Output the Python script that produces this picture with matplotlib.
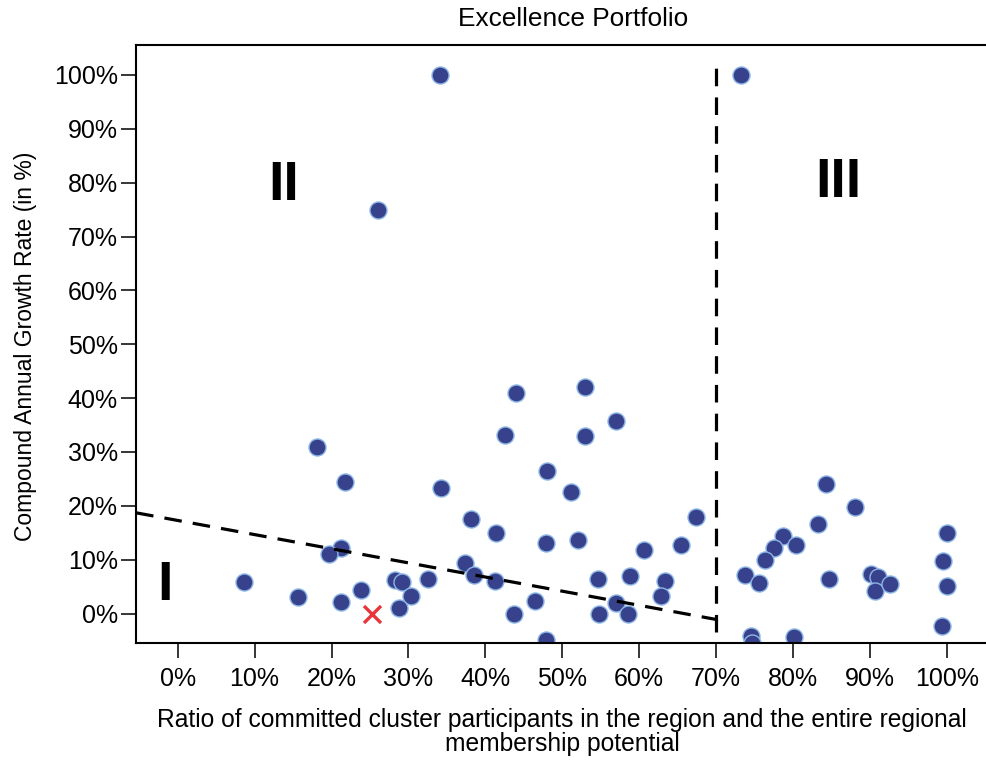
import numpy as np
import matplotlib
matplotlib.use("Agg")
import matplotlib.pyplot as plt

plt.rcParams['font.family'] = ['Liberation Sans', 'DejaVu Sans']

# Data (in %):
ratio = [18.1, 21.8, 21.2, 19.7, 8.6, 15.6, 21.2, 23.9, 28.2, 29.2, 30.4, 28.8, 32.5,
         44.0, 53.0, 42.5, 53.0, 57.0, 48.0, 34.3, 51.1, 38.1, 41.4, 47.9, 52.0,
         67.4, 60.6, 65.5, 37.3, 38.5, 41.2, 43.7, 46.4, 47.9, 54.7, 58.8, 63.4,
         62.8, 57.0, 54.8, 58.5,
         84.3, 88.1, 83.2, 78.7, 77.5, 80.4, 76.3, 73.8, 75.6, 84.7, 90.1, 91.0,
         90.7, 92.6, 100.0, 99.5, 100.0, 99.4, 74.5, 74.7, 80.2,
         34.1, 26.0, 73.2]
growth = [31.0, 24.5, 12.1, 11.0, 5.9, 3.1, 2.1, 4.4, 6.2, 5.8, 3.2, 1.0, 6.4,
          40.9, 42.0, 33.1, 33.0, 35.7, 26.5, 23.3, 22.5, 17.6, 14.9, 13.1, 13.6,
          18.0, 11.8, 12.7, 9.3, 7.2, 6.0, 0.0, 2.3, -4.9, 6.5, 7.0, 6.0,
          3.3, 2.0, 0.0, 0.0,
          24.0, 19.7, 16.7, 14.4, 12.2, 12.8, 9.9, 7.1, 5.6, 6.5, 7.3, 6.8,
          4.2, 5.5, 15.0, 9.8, 5.1, -2.3, -4.1, -5.4, -4.4,
          100.0, 75.0, 100.0]

# Highlighted region (red cross)
ref_x = [25.3]
ref_y = [0.0]

# Dividing lines
diag_x = [-5.4, 70.0]
diag_y = [18.7, -1.1]
vert_x = [70.0, 70.0]
vert_y = [-3.4, 103.3]

# Quadrant labels
quad_labels = ['I', 'II', 'III']
quad_x = [-1.6, 13.8, 85.9]
quad_y = [5.2, 79.4, 80.0]

ticks = np.arange(0, 101, 10)
tick_labels = [f"{t}%" for t in ticks]

fig = plt.figure(figsize=(9.86, 7.6), dpi=100)
ax = fig.add_axes([136/986, 1 - 643.3/760, 1 - 136/986, (643.3 - 45)/760])

ax.scatter(ratio, growth, s=150, color='#38428c', edgecolor='#8db6e6', linewidth=1.0, zorder=2)
ax.scatter(ref_x, ref_y, s=150, marker='x', color='#e8353b', linewidth=2.4, zorder=3)

ax.plot(diag_x, diag_y, color='black', linewidth=2.3, dashes=(5.5, 3.5), zorder=4)
ax.plot(vert_x, vert_y, color='black', linewidth=2.3, dashes=(5.5, 3.5), zorder=4)

for lab, qx, qy in zip(quad_labels, quad_x, quad_y):
    ax.text(qx, qy, lab, fontsize=40, fontweight='bold', ha='center', va='center')

ax.set_xlim(-5.42, 105.1)
ax.set_ylim(-5.53, 105.57)
ax.set_xticks(ticks)
ax.set_xticklabels(tick_labels)
ax.set_yticks(ticks)
ax.set_yticklabels(tick_labels)
ax.tick_params(direction='out', length=11, width=1.1, labelsize=18)
ax.tick_params(axis='x', pad=6)
ax.tick_params(axis='y', pad=2)

ax.spines['right'].set_visible(False)
for s in ['left', 'bottom', 'top']:
    ax.spines[s].set_linewidth(1.5)

# Title and axis labels
fig.text(573/986, 1 - 19/760, "Excellence Portfolio", fontsize=18.9, ha='center', va='center')
fig.text(562/986, 1 - 732/760,
         "Ratio of committed cluster participants in the region and the entire regional\nmembership potential",
         fontsize=17.7, ha='center', va='center', linespacing=1.0)
fig.text(26/986, 1 - 346/760, "Compound Annual Growth Rate (in %)", fontsize=16.5,
         rotation=90, ha='center', va='center')

fig.savefig("out.png", dpi=100)
